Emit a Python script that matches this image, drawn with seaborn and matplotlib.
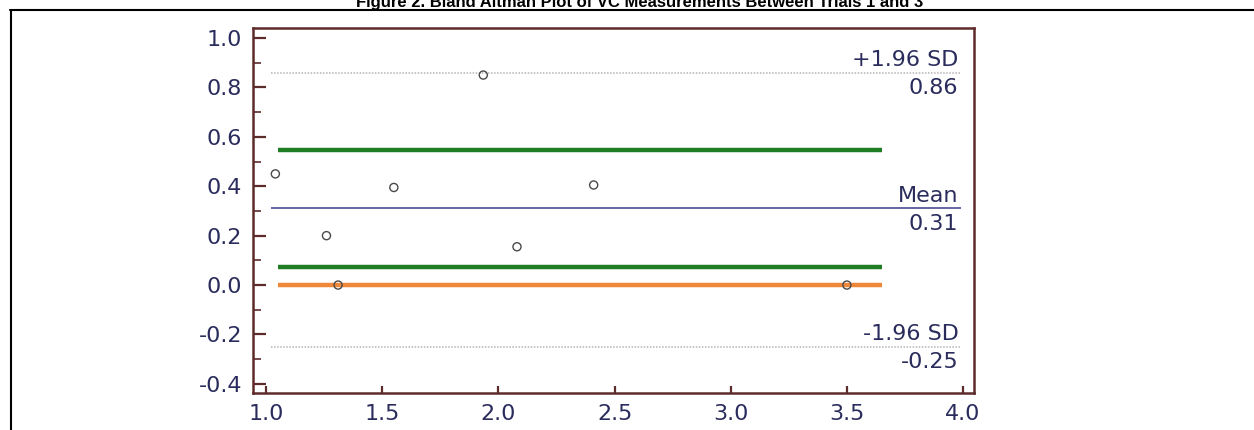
import numpy as np
import pandas as pd
import matplotlib
matplotlib.use("Agg")
import matplotlib.pyplot as plt
from matplotlib.lines import Line2D
from matplotlib.ticker import MultipleLocator
import seaborn as sns

sns.set_theme(style="white")
plt.rcParams["font.family"] = ["DejaVu Sans"]

# ----------------------------------------------------------
# data
# ----------------------------------------------------------
mean_vc = [1.04, 1.26, 1.31, 1.55, 1.935, 2.08, 2.41, 3.50]
diff_vc = [0.45, 0.20, 0.0, 0.395, 0.85, 0.155, 0.405, 0.0]

bias = 0.31
upper_loa = 0.86
lower_loa = -0.25
bias_ci = [0.545, 0.075]      # green lines
zero_line = 0.0               # orange line

x_ticks = [1.0, 1.5, 2.0, 2.5, 3.0, 3.5, 4.0]
y_ticks = [-0.4, -0.2, 0.0, 0.2, 0.4, 0.6, 0.8, 1.0]

title = "Figure 2. Bland Altman Plot of VC Measurements Between Trials 1 and 3"

df = pd.DataFrame({"mean": mean_vc, "diff": diff_vc})

spine_col = "#5e2b2b"
txt_col = "#2a2c5c"

fig = plt.figure(figsize=(12.54, 4.30), dpi=100)
fig.patch.set_facecolor("white")
ax = fig.add_axes([0.2018, 0.0860, 0.5749, 0.8489])

# reference lines
ax.hlines([upper_loa, lower_loa], 1.02, 3.99, colors="#b4b4b4", lw=1.1, linestyles=(0, (1, 1)), zorder=1)
ax.hlines(bias, 1.02, 3.99, colors="#3b3b86", lw=1.1, zorder=1)
ax.hlines(bias_ci, 1.05, 3.65, colors="#1f7d24", lw=3.2, zorder=2)
ax.hlines(zero_line, 1.05, 3.65, colors="#f0883a", lw=3.2, zorder=2)

sns.scatterplot(data=df, x="mean", y="diff", ax=ax, marker="o", s=34,
                facecolor="none", edgecolor="#4a4a4a", linewidth=1.0, zorder=3)

# labels at the right end of the lines
for val, name in [(upper_loa, "+1.96 SD"), (bias, "Mean"), (lower_loa, "-1.96 SD")]:
    ax.annotate(name, (3.98, val), xytext=(0, 2), textcoords="offset points",
                ha="right", va="bottom", fontsize=16, color=txt_col)
    ax.annotate(f"{val:.2f}", (3.98, val), xytext=(0, -4), textcoords="offset points",
                ha="right", va="top", fontsize=16, color=txt_col)

ax.set_xlim(0.944, 4.047)
ax.set_ylim(-0.437, 1.0405)
ax.set_xticks(x_ticks)
ax.set_yticks(y_ticks)
ax.set_xticklabels([f"{t:.1f}" for t in x_ticks])
ax.set_yticklabels([f"{t:.1f}" for t in y_ticks])
ax.yaxis.set_minor_locator(MultipleLocator(0.1))
ax.set_xlabel("")
ax.set_ylabel("")

ax.tick_params(axis="y", which="major", direction="in", length=9.5, width=1.6,
               color=spine_col, labelsize=16, labelcolor=txt_col, pad=8, left=True)
ax.tick_params(axis="y", which="minor", direction="in", length=5.5, width=1.2,
               color=spine_col, left=True)
ax.tick_params(axis="x", which="major", direction="in", length=5, width=1.6,
               color=spine_col, labelsize=16, labelcolor=txt_col, pad=8, bottom=True)
for s in ax.spines.values():
    s.set_color(spine_col)
    s.set_linewidth(1.8)
    s.set_visible(True)
ax.grid(False)

# page frame and cut-off caption
fig.add_artist(Line2D([10 / 1254, 1.0], [1 - 10 / 430, 1 - 10 / 430], color="black", lw=1.5,
                      transform=fig.transFigure))
fig.add_artist(Line2D([11 / 1254, 11 / 1254], [0.0, 1 - 10 / 430], color="black", lw=1.5,
                      transform=fig.transFigure))
fig.text(0.51, 1 - 7 / 430, title, ha="center", va="baseline", fontsize=12,
         fontweight="bold", family=["Liberation Sans", "DejaVu Sans"], color="black")

fig.savefig("out.png", dpi=100, facecolor="white")
